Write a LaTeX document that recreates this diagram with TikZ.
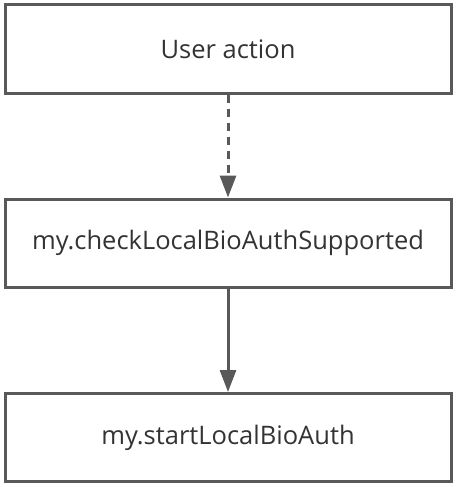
\documentclass[tikz,border=0pt]{standalone}
\usepackage{fontspec}
\setmainfont{Open Sans}
\usetikzlibrary{arrows.meta}
\definecolor{linegray}{HTML}{595959}
\definecolor{textgray}{HTML}{333333}

\begin{document}
\begin{tikzpicture}[x=1pt, y=-1pt,
      box/.style={draw=linegray, line width=3pt, minimum width=446pt, minimum height=88pt,
                  inner sep=0pt, text=textgray, font=\fontsize{25.5}{30}\selectfont},
      flow/.style={draw=linegray, line width=3pt, -{Triangle[length=22pt,width=16pt]}}]
      \useasboundingbox (0, 0) rectangle (460, 487);
      \node[box] (user)  at (228, 49)    {User action};
      \node[box] (check) at (228, 243)   {my.checkLocalBioAuthSupported};
      \node[box] (start) at (228, 437.5) {my.startLocalBioAuth};
      \draw[flow, dash pattern=on 8pt off 6pt] (user) -- (check);
      \draw[flow] (check) -- (start);
\end{tikzpicture}
\end{document}
